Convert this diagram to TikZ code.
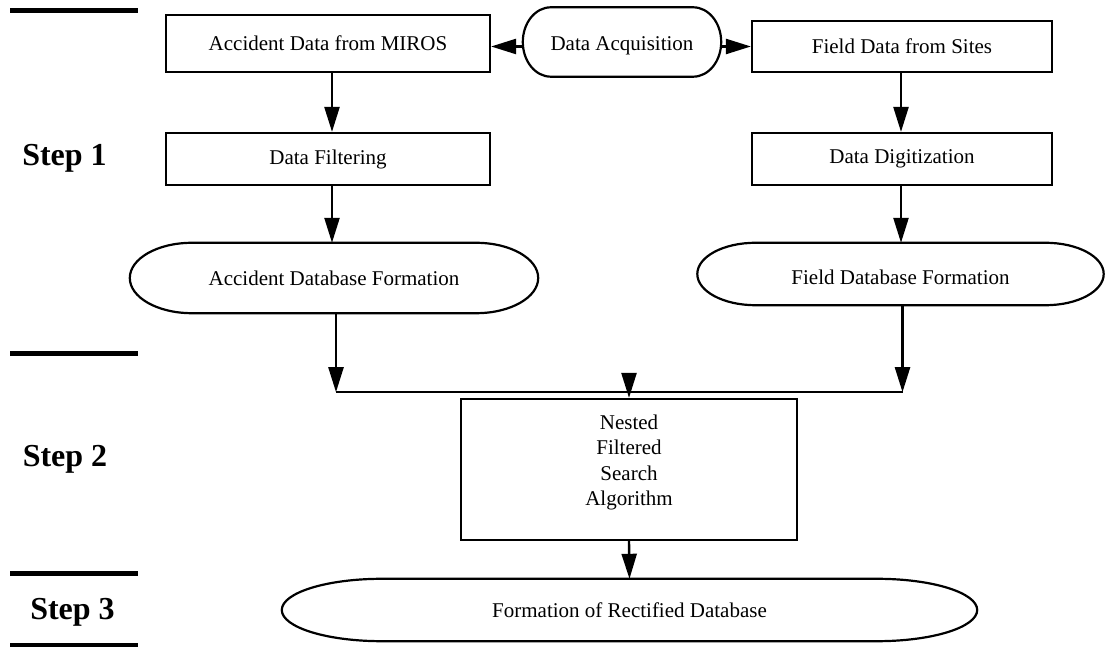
\documentclass[tikz,border=0pt]{standalone}
\usepackage{fontspec}
\setmainfont{Liberation Serif}
\usetikzlibrary{arrows.meta,calc}

\tikzset{
  boxline/.style={line width=2.2},
  procbox/.style={draw, boxline, rectangle, inner sep=0pt, align=center,
                  font=\fontsize{21}{25.2}\selectfont},
  capnode/.style={inner sep=0pt, align=center, font=\fontsize{21}{25.2}\selectfont},
  arr/.style={line width=2.4, -{Triangle[length=25pt,width=15pt]}},
  joinline/.style={line width=2},
  stepbar/.style={line width=5},
  steplabel/.style={font=\fontsize{32}{36}\selectfont\bfseries, inner sep=0pt}
}

% outline with straight top/bottom and half-elliptic ends
\newcommand\capsuleoutline[2]{%
  \draw[boxline] let \p1=(#1.north east), \p2=(#1.south west),
                     \n1={(\y1-\y2)/2} in
    (\x2+#2pt,\y1) -- (\x1-#2pt,\y1)
    arc[start angle=90, end angle=-90, x radius=#2pt, y radius=\n1]
    -- (\x2+#2pt,\y2)
    arc[start angle=270, end angle=90, x radius=#2pt, y radius=\n1] -- cycle;}

\begin{document}
\begin{tikzpicture}[x=1pt,y=1pt]
  \useasboundingbox (0,0) rectangle (1106,647);

  % column axes for the vertical connectors
  \coordinate (colL) at (332,0);
  \coordinate (colR) at (901,0);

  % step separators and labels
  \draw[stepbar] (10,636) coordinate (b1a) -- (138,636) coordinate (b1b);
  \draw[stepbar] (10,293) coordinate (b2a) -- (138,293) coordinate (b2b);
  \draw[stepbar] (10,73.5) coordinate (b3a) -- (138,73.5) coordinate (b3b);
  \draw[stepbar] (10,1) coordinate (b4a) -- (138,1) coordinate (b4b);
  \node[steplabel] (s1) at (64.5,488.5) {Step 1};
  \node[steplabel] (s2) at (65,188) {Step 2};
  \node[steplabel] (s3) at (72.5,34.5) {Step 3};

  % step 1: acquisition
  \node[procbox, minimum width=324, minimum height=57] (acc) at (328,603.5) {Accident Data from MIROS};
  \node[capnode, minimum width=198, minimum height=69,
        label={[capnode, yshift=-4pt]center:Data Acquisition}] (acq) at (622,605) {};
  \capsuleoutline{acq}{28}
  \node[procbox, minimum width=300, minimum height=51] (fld) at (902,600.5) {Field Data from Sites};

  \node[procbox, minimum width=324, minimum height=52] (filt) at (328,488) {Data Filtering};
  \node[procbox, minimum width=300, minimum height=52] (dig) at (902,488) {Data Digitization};

  \node[capnode, minimum width=408, minimum height=70] (accdb) at (334,369) {Accident Database Formation};
  \capsuleoutline{accdb}{62}
  \node[capnode, minimum width=406, minimum height=62,
        label={[capnode, yshift=-3pt]center:Field Database Formation}] (flddb) at (900.5,373) {};
  \capsuleoutline{flddb}{58}

  % step 2
  \node[procbox, minimum width=336, minimum height=141,
        label={[capnode, yshift=7pt]center:Nested\\Filtered\\Search\\Algorithm}] (nfs) at (629,177.5) {};

  % step 3
  \node[capnode, minimum width=695, minimum height=62] (rdb) at (629.5,37) {Formation of Rectified Database};
  \capsuleoutline{rdb}{100}

  % connectors
  \draw[arr] (acq.west |- fld.west) -- (acc.east |- fld.west);
  \draw[arr] (acq.east |- fld.west) -- (fld.west);
  \draw[arr] (acc.south -| colL) -- (filt.north -| colL);
  \draw[arr] (filt.south -| colL) -- (accdb.north -| colL);
  \draw[arr] (fld.south -| colR) -- (dig.north -| colR);
  \draw[arr] (dig.south -| colR) -- (flddb.north -| colR);

  % joining line below the two databases
  \coordinate (outL) at ($(accdb.south)+(2,0)$);
  \coordinate (outR) at ($(flddb.south)+(2,0)$);
  \coordinate (mL) at ($(outL)+(0,-79)$);
  \coordinate (mR) at (outR |- mL);
  \coordinate (mC) at (nfs.north |- mL);
  \draw[arr] (outL) -- (mL);
  \draw[arr] (outR) -- (mR);
  \draw[joinline] (mL) -- (mR);
  \draw[arr] (mC) -- (nfs.north);
  \draw[arr] (nfs.south) -- (rdb.north);
\end{tikzpicture}
\end{document}
